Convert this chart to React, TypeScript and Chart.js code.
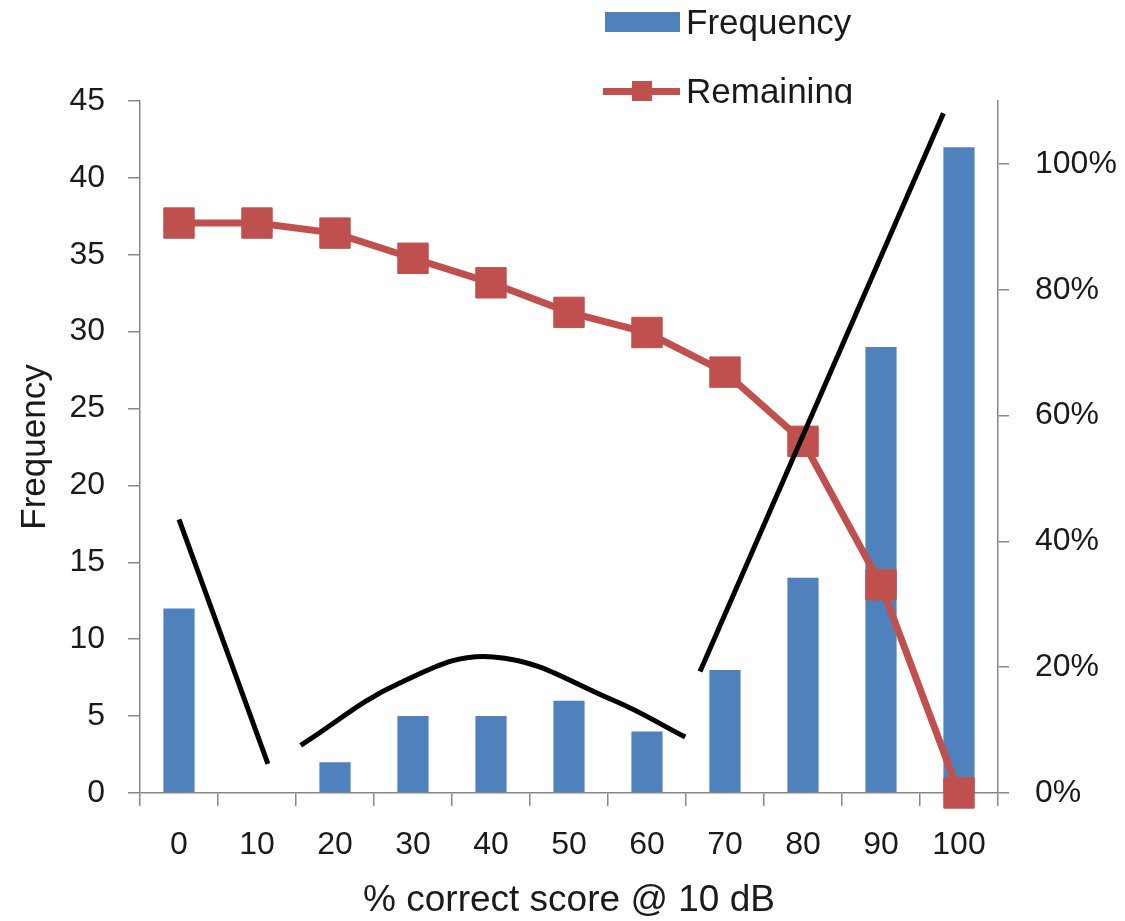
import React, { useEffect, useRef } from "react";
import { Chart, registerables } from "chart.js";

Chart.register(...registerables);

const categories = ["0", "10", "20", "30", "40", "50", "60", "70", "80", "90", "100"];
const frequency = [12, 0, 2, 5, 5, 6, 4, 8, 14, 29, 42];
const remaining = [90.6, 90.6, 89.0, 85.0, 81.1, 76.4, 73.2, 66.9, 55.9, 33.1, 0];
const rightTicks = [0, 20, 40, 60, 80, 100];

// hand-drawn annotation strokes (x in score units, y in frequency units)
const strokeDown = [
  { x: 0, y: 17.8 },
  { x: 11.4, y: 1.9 },
];
const strokeArch = [
  { x: 15.6, y: 3.1 },
  { x: 28.3, y: 7.15 },
  { x: 40.3, y: 8.85 },
  { x: 55.6, y: 6.05 },
  { x: 64.9, y: 3.64 },
];
const strokeRise = [
  { x: 66.8, y: 7.9 },
  { x: 98, y: 44.2 },
];

const FONT = "'Liberation Sans', Arial, sans-serif";
const BLUE = "#4F81BD";
const RED = "#C0504D";
const TEXT = "#1a1a1a";
const AXIS = "#888888";

export default function App() {
  const canvasRef = useRef<HTMLCanvasElement | null>(null);

  useEffect(() => {
    if (!canvasRef.current) return;
    const strokeDs = (data: { x: number; y: number }[], tension: number) => ({
      type: "line" as const,
      label: "",
      data,
      xAxisID: "x2",
      yAxisID: "y",
      borderColor: "#000000",
      borderWidth: 5,
      pointRadius: 0,
      tension,
      fill: false,
      clip: false as any,
      order: 0,
    });
    const chart = new Chart(canvasRef.current, {
      type: "bar",
      data: {
        labels: categories,
        datasets: [
          {
            type: "bar",
            label: "Frequency",
            data: frequency,
            backgroundColor: BLUE,
            xAxisID: "x",
            yAxisID: "y",
            barPercentage: 0.4,
            categoryPercentage: 1,
            grouped: false,
            order: 2,
          },
          {
            type: "line",
            label: "Remaining",
            data: remaining,
            xAxisID: "x",
            yAxisID: "y1",
            borderColor: RED,
            backgroundColor: RED,
            borderWidth: 7,
            pointStyle: "rect",
            pointRadius: 21.5,
            pointBorderWidth: 1,
            pointBorderColor: RED,
            pointBackgroundColor: RED,
            tension: 0,
            clip: false as any,
            order: 1,
          },
          strokeDs(strokeDown, 0),
          strokeDs(strokeArch, 0.4),
          strokeDs(strokeRise, 0),
        ] as any,
      },
      options: {
        animation: false,
        responsive: false,
        maintainAspectRatio: false,
        layout: { padding: { top: 101, left: 0, right: 0, bottom: 0 } },
        plugins: {
          legend: { display: false },
          tooltip: { enabled: false },
        },
        scales: {
          x: {
            type: "category",
            position: "bottom",
            offset: true,
            grid: {
              display: true,
              offset: true,
              drawOnChartArea: false,
              drawTicks: true,
              tickLength: 13,
              color: AXIS,
              lineWidth: 1.5,
            },
            border: { display: true, color: AXIS, width: 1.5 },
            ticks: {
              color: TEXT,
              font: { family: FONT, size: 32 },
              padding: 20,
              maxRotation: 0,
              autoSkip: false,
            },
            title: {
              display: true,
              text: "% correct score @ 10 dB",
              color: TEXT,
              font: { family: FONT, size: 37, lineHeight: 1 },
              padding: { top: 0, bottom: 2 },
            },
            afterFit: (s: any) => {
              s.height = 128;
            },
          },
          x2: {
            type: "linear",
            display: false,
            offset: false,
            grid: { offset: false },
            min: -5,
            max: 105,
          },
          y: {
            type: "linear",
            position: "left",
            min: 0,
            max: 45,
            ticks: {
              stepSize: 5,
              color: TEXT,
              font: { family: FONT, size: 32 },
              padding: 23,
            },
            grid: {
              display: true,
              drawOnChartArea: false,
              drawTicks: true,
              tickLength: 12,
              color: AXIS,
              lineWidth: 1.5,
            },
            border: { display: true, color: AXIS, width: 1.5 },
            title: {
              display: true,
              text: "Frequency",
              color: TEXT,
              font: { family: FONT, size: 35 },
              padding: { top: 14, bottom: 0 },
            },
            afterFit: (s: any) => {
              s.width = 140;
            },
          },
          y1: {
            type: "linear",
            position: "right",
            min: 0,
            max: 110,
            afterBuildTicks: (s: any) => {
              s.ticks = rightTicks.map((v) => ({ value: v }));
            },
            ticks: {
              color: TEXT,
              font: { family: FONT, size: 32 },
              padding: 26,
              callback: (v: any) => `${v}%`,
            },
            grid: {
              display: true,
              drawOnChartArea: false,
              drawTicks: true,
              tickLength: 11,
              color: AXIS,
              lineWidth: 1.5,
            },
            border: { display: true, color: AXIS, width: 1.5 },
            afterFit: (s: any) => {
              s.width = 127;
            },
          },
        },
      } as any,
    });
    return () => chart.destroy();
  }, []);

  return (
    <div
      style={{
        position: "absolute",
        left: 0,
        top: 0,
        width: 1125,
        height: 921,
        background: "#ffffff",
        overflow: "hidden",
      }}
    >
      <canvas ref={canvasRef} width={1125} height={921} style={{ display: "block" }} />
      <div
        style={{
          position: "absolute",
          left: 600,
          top: 0,
          width: 300,
          height: 104,
          overflow: "hidden",
          fontFamily: FONT,
          fontSize: 35,
          color: TEXT,
        }}
      >
        <div style={{ position: "absolute", left: 5, top: 12, width: 75, height: 20, background: BLUE }} />
        <div style={{ position: "absolute", left: 86, top: 22, transform: "translateY(-50%)", lineHeight: "42px", whiteSpace: "nowrap" }}>
          Frequency
        </div>
        <div style={{ position: "absolute", left: 3, top: 87.5, width: 77, height: 7, background: RED }} />
        <div style={{ position: "absolute", left: 32, top: 81, width: 20, height: 20, background: RED }} />
        <div style={{ position: "absolute", left: 86, top: 91, transform: "translateY(-50%)", lineHeight: "42px", whiteSpace: "nowrap" }}>
          Remaining
        </div>
      </div>
    </div>
  );
}
